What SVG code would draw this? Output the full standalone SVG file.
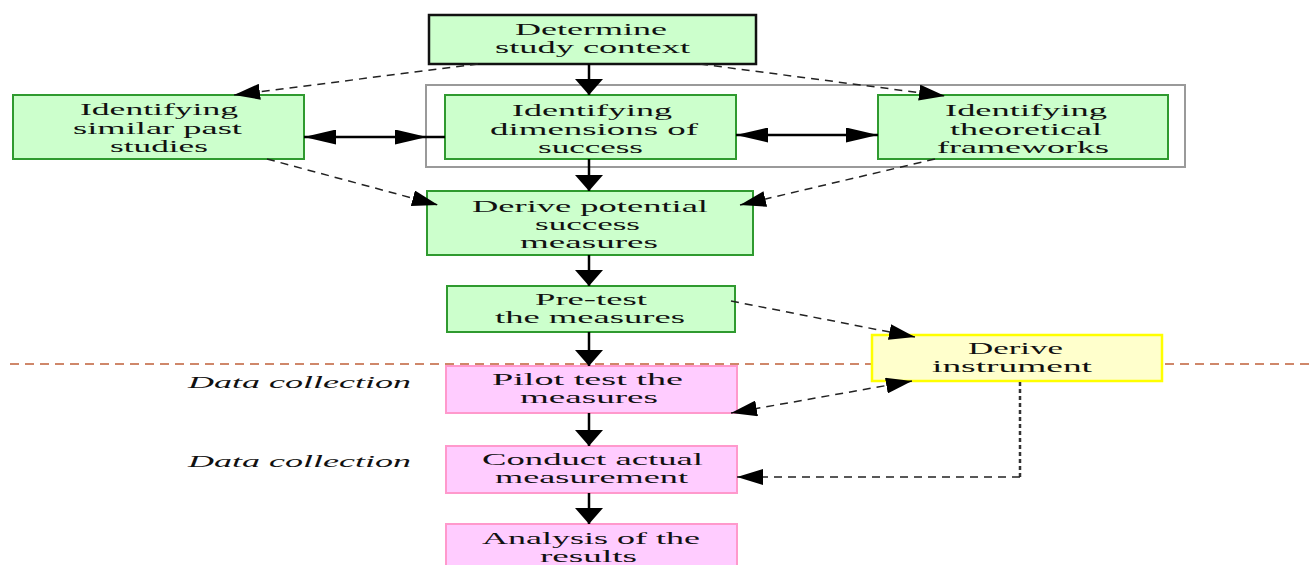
<svg xmlns="http://www.w3.org/2000/svg" width="1314" height="565" viewBox="0 0 1314 565">
<style>
text{font-family:"Liberation Serif","Times New Roman",serif;font-size:16px;fill:#111}
.it{font-style:italic;font-size:16px}
.g{fill:#ccffcc;stroke:#2f9a2f;stroke-width:2}
.k{fill:#ccffcc;stroke:#111;stroke-width:2.5}
.p{fill:#ffccff;stroke:#ff99cc;stroke-width:2}
.y{fill:#ffffcc;stroke:#ffff00;stroke-width:2.5}
.s{stroke:#000;stroke-width:2.5;fill:none}
.d{stroke:#222;stroke-width:1.5;fill:none;stroke-dasharray:8 6}
.o{stroke:#333;stroke-width:2.5;fill:none;stroke-dasharray:4 3}
</style>
<defs>
<marker id="av" markerUnits="userSpaceOnUse" viewBox="0 0 16 28" refX="16" refY="14" markerWidth="16" markerHeight="28" orient="auto"><path d="M0,0 L16,14 L0,28 z" fill="#000"/></marker>
<marker id="ah" markerUnits="userSpaceOnUse" viewBox="0 0 32 15" refX="32" refY="7.5" markerWidth="32" markerHeight="15" orient="auto-start-reverse"><path d="M0,0 L32,7.5 L0,15 z" fill="#000"/></marker>
<marker id="ad" markerUnits="userSpaceOnUse" viewBox="0 0 26 16" refX="26" refY="8" markerWidth="26" markerHeight="16" orient="auto-start-reverse"><path d="M0,0 L26,8 L0,16 z" fill="#000"/></marker>
</defs>

<rect id="group-box" x="426" y="85" width="759" height="82" fill="none" stroke="#9a9a9a" stroke-width="2"/>
<line id="phase-line" x1="10" y1="364" x2="1314" y2="364" stroke="#c0603a" stroke-width="1.5" stroke-dasharray="9 6"/>

<g id="n-context"><rect class="k" x="429" y="15" width="327" height="49"/>
<text x="515" y="35" textLength="152" lengthAdjust="spacingAndGlyphs">Determine</text>
<text x="495" y="53" textLength="195" lengthAdjust="spacingAndGlyphs">study context</text></g>

<g id="n-past"><rect class="g" x="13" y="95" width="291" height="64"/>
<text x="80" y="115" textLength="158" lengthAdjust="spacingAndGlyphs">Identifying</text>
<text x="73" y="134" textLength="169" lengthAdjust="spacingAndGlyphs">similar past</text>
<text x="110" y="152" textLength="98" lengthAdjust="spacingAndGlyphs">studies</text></g>

<g id="n-dimensions"><rect class="g" x="445" y="95" width="291" height="64"/>
<text x="512" y="116" textLength="160" lengthAdjust="spacingAndGlyphs">Identifying</text>
<text x="490" y="135" textLength="208" lengthAdjust="spacingAndGlyphs">dimensions of</text>
<text x="538" y="153" textLength="105" lengthAdjust="spacingAndGlyphs">success</text></g>

<g id="n-theory"><rect class="g" x="878" y="95" width="290" height="64"/>
<text x="945" y="116" textLength="162" lengthAdjust="spacingAndGlyphs">Identifying</text>
<text x="950" y="135" textLength="152" lengthAdjust="spacingAndGlyphs">theoretical</text>
<text x="937" y="153" textLength="172" lengthAdjust="spacingAndGlyphs">frameworks</text></g>

<g id="n-derive"><rect class="g" x="427" y="191" width="326" height="64"/>
<text x="472" y="212" textLength="236" lengthAdjust="spacingAndGlyphs">Derive potential</text>
<text x="535" y="230" textLength="105" lengthAdjust="spacingAndGlyphs">success</text>
<text x="520" y="248" textLength="138" lengthAdjust="spacingAndGlyphs">measures</text></g>

<g id="n-pretest"><rect class="g" x="447" y="286" width="288" height="46"/>
<text x="535" y="305" textLength="112" lengthAdjust="spacingAndGlyphs">Pre-test</text>
<text x="495" y="323" textLength="190" lengthAdjust="spacingAndGlyphs">the measures</text></g>

<g id="n-instrument"><rect class="y" x="872" y="335" width="290" height="46"/>
<text x="968" y="354" textLength="95" lengthAdjust="spacingAndGlyphs">Derive</text>
<text x="932" y="372" textLength="160" lengthAdjust="spacingAndGlyphs">instrument</text></g>

<g id="n-pilot"><rect class="p" x="446" y="366" width="291" height="47"/>
<text x="492" y="385" textLength="191" lengthAdjust="spacingAndGlyphs">Pilot test the</text>
<text x="520" y="403" textLength="138" lengthAdjust="spacingAndGlyphs">measures</text></g>

<g id="n-conduct"><rect class="p" x="446" y="446" width="291" height="47"/>
<text x="482" y="465" textLength="221" lengthAdjust="spacingAndGlyphs">Conduct actual</text>
<text x="495" y="483" textLength="193" lengthAdjust="spacingAndGlyphs">measurement</text></g>

<g id="n-analysis"><rect class="p" x="446" y="524" width="291" height="50"/>
<text x="482" y="544" textLength="218" lengthAdjust="spacingAndGlyphs">Analysis of the</text>
<text x="540" y="562" textLength="97" lengthAdjust="spacingAndGlyphs">results</text></g>

<g id="labels">
<text class="it" x="188" y="388" textLength="223" lengthAdjust="spacingAndGlyphs">Data collection</text>
<text class="it" x="188" y="467" textLength="223" lengthAdjust="spacingAndGlyphs">Data collection</text>
</g>

<g id="connectors">
<path class="s" d="M589,64 V95" marker-end="url(#av)"/>
<path class="s" d="M589,159 V191" marker-end="url(#av)"/>
<path class="s" d="M589,255 V286" marker-end="url(#av)"/>
<path class="s" d="M589,332 V366" marker-end="url(#av)"/>
<path class="s" d="M589,413 V446" marker-end="url(#av)"/>
<path class="s" d="M589,493 V524" marker-end="url(#av)"/>
<path class="s" d="M304,137 H427" marker-start="url(#ah)" marker-end="url(#ah)"/>
<path class="s" d="M427,137 H445" stroke-width="2"/>
<path class="s" d="M736,135 H878" marker-start="url(#ah)" marker-end="url(#ah)"/>
<path class="d" d="M478,64 L234,95" marker-end="url(#ad)"/>
<path class="d" d="M700,64 L945,96" marker-end="url(#ad)"/>
<path class="d" d="M267,159 L438,205" marker-end="url(#ad)"/>
<path class="d" d="M935,159 L740,205" marker-end="url(#ad)"/>
<path class="d" d="M731,301 L915,337" marker-end="url(#ad)"/>
<path class="d" d="M912,381 L731,413" marker-start="url(#ad)" marker-end="url(#ad)"/>
<path class="o" d="M1020,382 V477"/>
<path class="d" d="M1020,477 H737" stroke-width="2" marker-end="url(#ad)"/>
</g>
</svg>
